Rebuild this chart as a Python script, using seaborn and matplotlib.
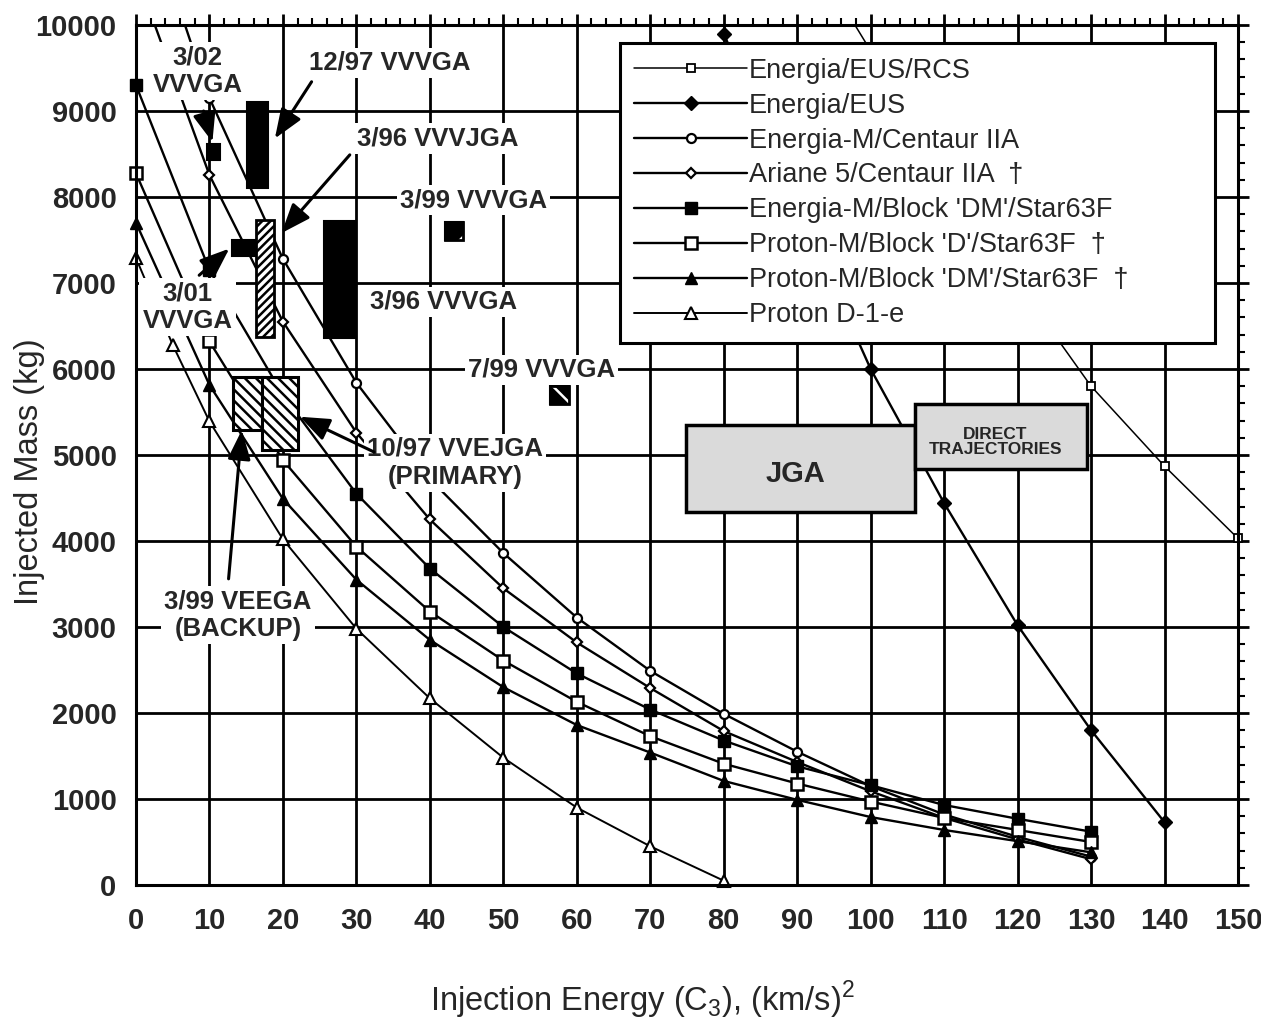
import matplotlib
matplotlib.use("Agg")
import matplotlib.pyplot as plt
import seaborn as sns
from matplotlib.patches import Rectangle
from matplotlib.transforms import Bbox, TransformedBbox
from matplotlib.ticker import MultipleLocator

# ---------------- data ----------------
c3_eus_rcs = [90, 100, 110, 120, 130, 140, 150]
mass_eus_rcs = [11100, 9700, 8350, 7000, 5800, 4870, 4030]

c3_eus = [80, 90, 100, 110, 120, 130, 140]
mass_eus = [9900, 7900, 6000, 4440, 3020, 1800, 730]

c3_std = [0, 10, 20, 30, 40, 50, 60, 70, 80, 90, 100, 110, 120, 130]
mass_em_centaur = [11700, 9150, 7280, 5840, 4720, 3860, 3110, 2490, 1990, 1550, 1150, 820, 560, 330]
mass_ariane_centaur = [10600, 8255, 6550, 5260, 4250, 3450, 2820, 2290, 1790, 1430, 1090, 780, 530, 300]
mass_em_dm = [9300, 7150, 5700, 4550, 3680, 3000, 2460, 2040, 1680, 1380, 1160, 930, 770, 620]
mass_pm_d = [8275, 6320, 4940, 3935, 3180, 2610, 2130, 1730, 1410, 1180, 970, 780, 640, 500]
mass_pm_dm = [7700, 5814, 4490, 3550, 2850, 2300, 1860, 1540, 1210, 990, 790, 640, 510, 380]

c3_d1e = [0, 5, 10, 20, 30, 40, 50, 60, 70, 80]
mass_d1e = [7290, 6280, 5390, 4020, 2980, 2170, 1480, 900, 450, 50]

series_labels = ["Energia/EUS/RCS", "Energia/EUS", "Energia-M/Centaur IIA",
                 "Ariane 5/Centaur IIA  \u2020", "Energia-M/Block 'DM'/Star63F",
                 "Proton-M/Block 'D'/Star63F  \u2020", "Proton-M/Block 'DM'/Star63F  \u2020",
                 "Proton D-1-e"]

x_ticks = list(range(0, 151, 10))
y_ticks = list(range(0, 10001, 1000))

# annotation labels (text, x, y)
ann_texts = ["3/02\nVVVGA", "12/97 VVVGA", "3/96 VVVJGA", "3/96 VVVGA", "3/01\nVVVGA",
             "3/99 VVVGA", "7/99 VVVGA", "10/97 VVEJGA\n(PRIMARY)", "3/99 VEEGA\n(BACKUP)"]
ann_x = [8.4, 34.6, 41.1, 41.8, 7.0, 45.9, 55.2, 43.4, 13.9]
ann_y = [9460, 9560, 8680, 6780, 6720, 7965, 5990, 4910, 3140]

# launch-window boxes (x0, y0, width, height, style)
win_x0 = [9.6, 15.1, 16.4, 25.6, 13.0, 42.0, 56.3, 13.2, 17.1]
win_y0 = [8430, 8100, 6375, 6360, 7310, 7500, 5590, 5290, 5060]
win_w = [1.8, 2.9, 2.4, 4.2, 3.2, 2.5, 2.7, 3.9, 4.9]
win_h = [190, 1010, 1355, 1360, 190, 210, 210, 620, 850]
win_style = ["solid", "solid", "fwd", "solid", "solid", "small_f", "small_b", "back", "back"]

# arrows (tail -> head)
arr_tail = [(9.2, 9000), (23.9, 9340), (29.1, 8490), (8.6, 7090), (32.4, 5035), (12.6, 3560)]
arr_head = [(10.4, 8640), (18.9, 8680), (19.8, 7580), (12.7, 7400), (22.3, 5445), (14.4, 5290)]

# region boxes
region_texts = ["JGA", "DIRECT\nTRAJECTORIES"]
region_x0 = [74.8, 106.1]
region_y0 = [4340, 4840]
region_w = [31.3, 23.4]
region_h = [1010, 750]
region_tx = [89.7, 117.0]
region_ty = [4780, 5150]
region_fs = [21, 12.5]

# ---------------- style ----------------
sns.set_style("white")
plt.rcParams['font.family'] = ['Liberation Sans', 'DejaVu Sans']
plt.rcParams['mathtext.fontset'] = 'custom'
plt.rcParams['mathtext.rm'] = 'Liberation Sans'
plt.rcParams['hatch.linewidth'] = 1.8

fig = plt.figure(figsize=(12.61, 10.31), dpi=100)
ax = fig.add_axes([136 / 1261, 1 - 885 / 1031, 1102 / 1261, 860 / 1031])

series = [
    (c3_eus_rcs, mass_eus_rcs, dict(marker='s', markersize=6, markerfacecolor='white', markeredgewidth=1.3, linewidth=1.1)),
    (c3_eus, mass_eus, dict(marker='D', markersize=7.5, markerfacecolor='black', markeredgewidth=1, linewidth=1.7)),
    (c3_std, mass_em_centaur, dict(marker='o', markersize=6.5, markerfacecolor='white', markeredgewidth=1.6, linewidth=1.7)),
    (c3_std, mass_ariane_centaur, dict(marker='D', markersize=5.5, markerfacecolor='white', markeredgewidth=1.6, linewidth=1.7)),
    (c3_std, mass_em_dm, dict(marker='s', markersize=8.5, markerfacecolor='black', markeredgewidth=1, linewidth=1.7)),
    (c3_std, mass_pm_d, dict(marker='s', markersize=8.5, markerfacecolor='white', markeredgewidth=1.8, linewidth=1.7)),
    (c3_std, mass_pm_dm, dict(marker='^', markersize=9, markerfacecolor='black', markeredgewidth=1, linewidth=1.7)),
    (c3_d1e, mass_d1e, dict(marker='^', markersize=8.5, markerfacecolor='white', markeredgewidth=1.5, linewidth=1.4)),
]

clip = TransformedBbox(Bbox.from_extents(-0.03, -0.03, 1.03, 1.0), ax.transAxes)
handles = []
for (xs, ys, kw), lab in zip(series, series_labels):
    sns.lineplot(x=xs, y=ys, ax=ax, color='black', markeredgecolor='black',
                 label=lab, sort=False, zorder=2, **kw)
    ln = ax.lines[-1]
    ln.set_clip_path(None)
    ln.set_clip_box(clip)
    handles.append(ln)

ax.set_xlim(0, 150)
ax.set_ylim(0, 10000)
ax.set_xticks(x_ticks)
ax.set_yticks(y_ticks)
ax.xaxis.set_minor_locator(MultipleLocator(2))
ax.yaxis.set_minor_locator(MultipleLocator(200))
ax.set_axisbelow(True)
ax.grid(True, which='major', color='black', linewidth=2.0)
for s in ax.spines.values():
    s.set_linewidth(2.2)
    s.set_color('black')
ax.tick_params(which='both', direction='out', top=True, right=True, color='black')
ax.tick_params(which='major', length=8, width=2)
ax.tick_params(which='minor', length=5, width=1.5)
ax.tick_params(axis='x', which='major', pad=8, labelsize=21)
ax.tick_params(axis='y', which='major', pad=6, labelsize=21)
for t in ax.get_xticklabels() + ax.get_yticklabels():
    t.set_fontweight('bold')
ax.set_xlabel('')
ax.set_ylabel('')

# windows
for x0, y0, w, h, st in zip(win_x0, win_y0, win_w, win_h, win_style):
    if st == 'solid':
        ax.add_patch(Rectangle((x0, y0), w, h, facecolor='black', edgecolor='black', lw=1.5, zorder=4))
    elif st.startswith('small'):
        ax.add_patch(Rectangle((x0, y0), w, h, facecolor='black', edgecolor='black', lw=1.5, zorder=4))
        ax.add_patch(Rectangle((x0, y0), w, h, fill=False, edgecolor='white', lw=0,
                               hatch='/' if st == 'small_f' else '\\', zorder=4.1))
        ax.add_patch(Rectangle((x0, y0), w, h, fill=False, edgecolor='black', lw=2, zorder=4.2))
    elif st == 'fwd':
        ax.add_patch(Rectangle((x0, y0), w, h, facecolor='white', edgecolor='black', lw=2, hatch='////', zorder=4))
    else:
        ax.add_patch(Rectangle((x0, y0), w, h, facecolor='white', edgecolor='black', lw=2.2, hatch='\\\\\\', zorder=4))

# region boxes
for t, x0, y0, w, h, tx, ty, fs in zip(region_texts, region_x0, region_y0, region_w, region_h,
                                        region_tx, region_ty, region_fs):
    ax.add_patch(Rectangle((x0, y0), w, h, facecolor='#dadada', edgecolor='black', lw=2.5, zorder=4))
    ax.text(tx, ty, t, ha='center', va='center', fontsize=fs, fontweight='bold',
            linespacing=1.0, zorder=5)

# labels
for t, x, y in zip(ann_texts, ann_x, ann_y):
    ax.text(x, y, t, ha='center', va='center', fontsize=18.5, fontweight='bold', linespacing=1.2,
            zorder=5, bbox=dict(boxstyle='square,pad=0.12', facecolor='white', edgecolor='none'))

# arrows
for (tx, ty), (hx, hy) in zip(arr_tail, arr_head):
    ax.annotate('', xy=(hx, hy), xytext=(tx, ty), zorder=6,
                arrowprops=dict(arrowstyle='-|>,head_width=0.35,head_length=0.9', color='black',
                                lw=2.2, shrinkA=0, shrinkB=0, mutation_scale=20))

leg = ax.legend(handles, series_labels, loc='upper left', bbox_to_anchor=(0.439, 0.631, 0.540, 0.348),
                mode='expand', borderaxespad=0, fontsize=19.5, handlelength=4.15, handletextpad=0.08,
                labelspacing=0.33, borderpad=0.54, fancybox=False, framealpha=1, edgecolor='black',
                facecolor='white')
leg.get_frame().set_linewidth(2.2)
leg.set_zorder(7)

fig.text(30 / 1261, 1 - 472 / 1031, 'Injected Mass (kg)', rotation=90, ha='center', va='center', fontsize=23.5)
fig.text(642 / 1261, 1 - 1000 / 1031, 'Injection Energy (C$_3$), (km/s)$^2$', ha='center', va='center',
         fontsize=23.5)

fig.savefig('out.png', dpi=100, facecolor='white')
